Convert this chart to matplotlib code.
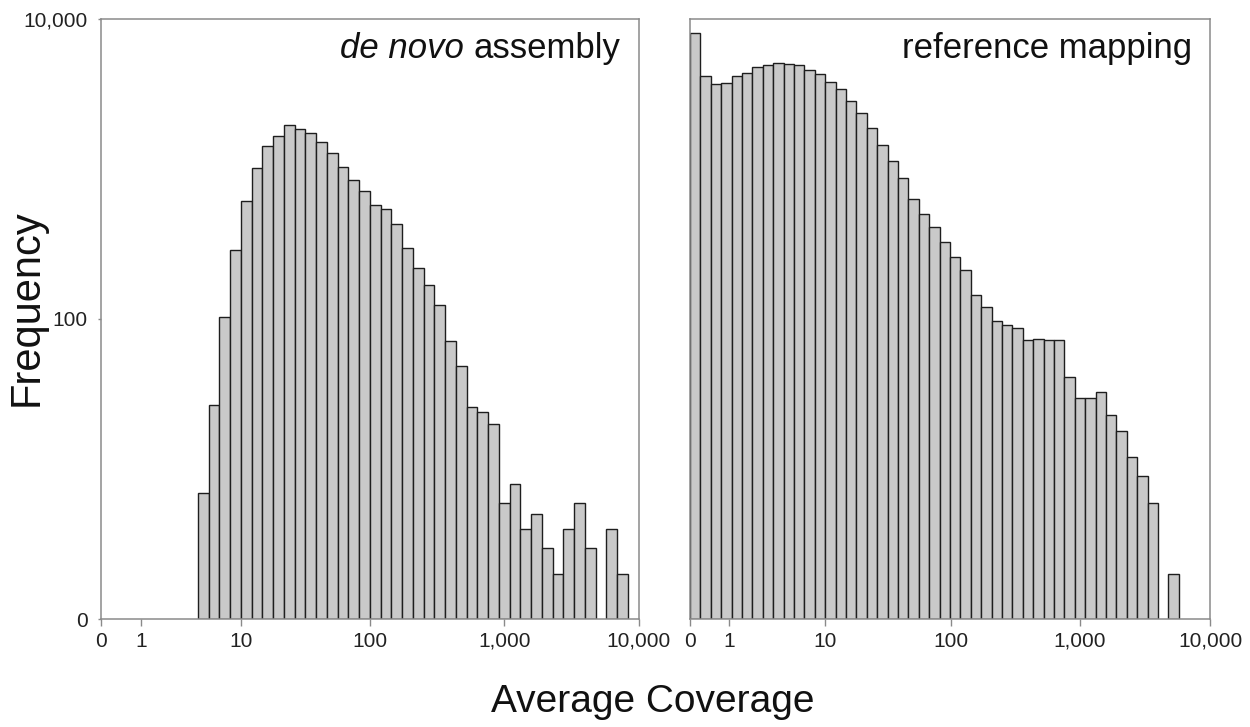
import numpy as np
import matplotlib
matplotlib.use("Agg")
import matplotlib.pyplot as plt

plt.rcParams["font.family"] = ["Liberation Sans", "DejaVu Sans"]

# Histogram bins: 50 equal-width bins of log10(coverage + 1) over [0, 4]
n_bins = 50
log_span = 4.0

# Contig counts per bin (de novo assembly)
denovo_counts = [0, 0, 0, 0, 0, 0, 0, 0, 0,
                 6, 26, 103, 289, 615, 1018, 1429, 1670, 1980, 1860,
                 1740, 1510, 1290, 1030, 850, 720, 580, 540, 433, 299,
                 219, 168, 124, 71, 48, 25, 23, 19, 5, 7,
                 3, 4, 2, 1, 3, 5, 2, 0, 3, 1,
                 0]

# Contig counts per bin (reference mapping)
reference_counts = [8150, 4200, 3710, 3750, 4200, 4390, 4800, 4950, 5100, 5040,
                    4920, 4600, 4300, 3820, 3410, 2870, 2360, 1890, 1460, 1140,
                    876, 629, 503, 413, 328, 261, 211, 145, 119, 97,
                    90, 86, 72, 73, 72, 72, 40, 29, 29, 32,
                    22, 17, 11, 8, 5, 0, 1, 0, 0, 0]

panel_titles = [("de novo", "assembly"), (None, "reference mapping")]
x_ticks = [0, 1, 10, 100, 1000, 10000]
y_ticks = [0, 100, 10000]
x_label = "Average Coverage"
y_label = "Frequency"


def fwd(v):
    return np.log10(np.maximum(v, -0.999999) + 1.0)


def inv(v):
    return 10.0 ** v - 1.0


log_edges = np.linspace(0, log_span, n_bins + 1)
edges = inv(log_edges)
lefts = edges[:-1]
widths = np.diff(edges)

fig = plt.figure(figsize=(12.5, 7.27), dpi=100)
W, H = 1250, 727
ax_specs = [(101, 638.7), (690, 1210)]
top_px, bot_px = 19.3, 619.3

spine_col = "#8a8a8a"
bar_face = "#c9c9c9"
bar_edge = "#1e1e1e"

for i, ((x0, x1), counts, (ital, plain)) in enumerate(
        zip(ax_specs, [denovo_counts, reference_counts], panel_titles)):
    ax = fig.add_axes([x0 / W, (H - bot_px) / H, (x1 - x0) / W, (bot_px - top_px) / H])
    ax.set_xscale("function", functions=(fwd, inv))
    ax.set_yscale("function", functions=(fwd, inv))
    c = np.asarray(counts, dtype=float)
    m = c > 0
    ax.bar(lefts[m], c[m], width=widths[m], align="edge", bottom=0,
           color=bar_face, edgecolor=bar_edge, linewidth=1.0, zorder=2)
    ax.set_xlim(0, 10000)
    ax.set_ylim(0, 10000)
    ax.set_xticks(x_ticks)
    ax.set_xticklabels([f"{t:,}" for t in x_ticks])
    ax.xaxis.set_minor_locator(matplotlib.ticker.NullLocator())
    ax.yaxis.set_minor_locator(matplotlib.ticker.NullLocator())
    for s in ax.spines.values():
        s.set_color(spine_col)
        s.set_linewidth(1.1)
    ax.tick_params(axis="x", direction="out", length=5, width=1.0, color=spine_col,
                   labelsize=15, labelcolor="#222222", pad=4)
    ax.tick_params(axis="y", direction="out", length=2.5, width=1.0, color=spine_col,
                   labelsize=15, labelcolor="#222222", pad=7)
    if i == 0:
        ax.set_yticks(y_ticks)
        ax.set_yticklabels([f"{t:,}" for t in y_ticks])
    else:
        ax.set_yticks([])
    # Panel title, right-aligned in the upper corner
    t = ax.text(1 - 18 / (x1 - x0), 1 - 39 / (bot_px - top_px), plain, transform=ax.transAxes,
                ha="right", va="baseline", fontsize=25, color="#111111")
    if ital:
        ax.annotate(ital + " ", xy=(0, 0), xycoords=t, ha="right", va="bottom",
                    fontsize=25, style="italic", color="#111111")

fig.text(27 / W, 1 - 308 / H, y_label, rotation=90, ha="center", va="center",
         fontsize=30, color="#111111")
fig.text(653 / W, 1 - 702 / H, x_label, ha="center", va="center",
         fontsize=28, color="#111111")

fig.savefig("out.png", dpi=100)
